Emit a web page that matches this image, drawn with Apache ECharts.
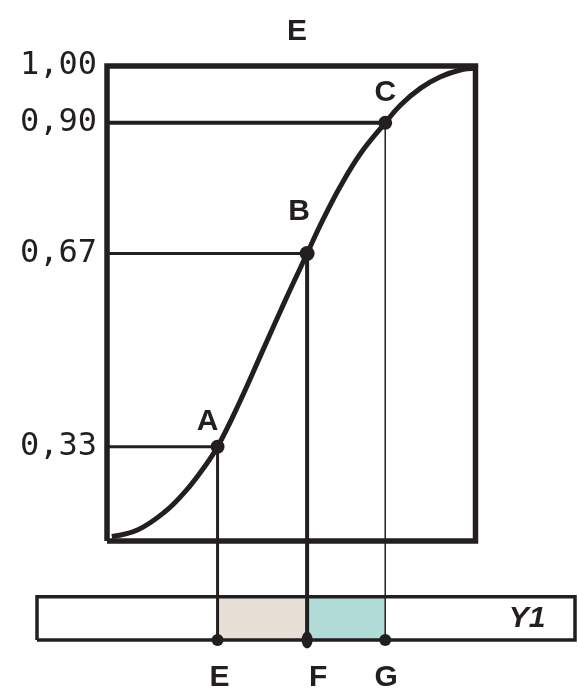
<!DOCTYPE html>
<html>
<head>
<meta charset="utf-8">
<script src="https://cdn.jsdelivr.net/npm/echarts@6/dist/echarts.min.js"></script>
<style>
  html, body { margin: 0; padding: 0; background: #fff; }
  #chart { width: 578px; height: 690px; }
</style>
</head>
<body>
<div id="chart"></div>
<script>
// axis ranges (box spans x 0..1, strip spans the whole width)
const xRange = [-0.19, 1.27]
const yRange = [-0.01, 1]
const yTicks = [0.33, 0.67, 0.90, 1.00]
const boxX = [0, 1]
const boxY = [0.164, 1]
const stripY = [-0.01, 0.066]

// the S-curve
const curveX = [0.013, 0.084, 0.158, 0.212, 0.258, 0.30, 0.361, 0.421, 0.484, 0.543, 0.584, 0.633, 0.688, 0.755, 0.796, 0.851, 0.905, 0.959, 1.0]
const curveY = [0.172, 0.184, 0.216, 0.251, 0.289, 0.33, 0.41, 0.497, 0.588, 0.67, 0.727, 0.788, 0.846, 0.90, 0.931, 0.961, 0.981, 0.993, 0.996]

// marked points and their feet on the strip
const pointNames = ['A', 'B', 'C']
const pointX = [0.30, 0.543, 0.755]
const pointY = [0.33, 0.67, 0.90]
const footNames = ['E', 'F', 'G']
const guideWidths = [3, 4, 1.5]
const hLineWidths = [3, 3, 4]
const bandColors = ['#e8e0d7', '#b0dbd6']

const ink = '#231f20'

const chart = echarts.init(document.getElementById('chart'))

const lineSeries = (data, width, extra) => Object.assign({
  type: 'line',
  data: data,
  symbol: 'none',
  clip: false,
  silent: true,
  lineStyle: { color: ink, width: width, join: 'miter', cap: 'butt' }
}, extra || {})

const series = []

// shaded bands on the strip: E..F and F..G
series.push({
  type: 'line',
  data: [],
  markArea: {
    silent: true,
    data: [
      [{ xAxis: pointX[0], yAxis: stripY[0], itemStyle: { color: bandColors[0] } }, { xAxis: pointX[1], yAxis: stripY[1] }],
      [{ xAxis: pointX[1], yAxis: stripY[0], itemStyle: { color: bandColors[1] } }, { xAxis: pointX[2], yAxis: stripY[1] }]
    ]
  }
})

// strip outline
series.push(lineSeries([
  [xRange[0], stripY[0]], [xRange[1], stripY[0]], [xRange[1], stripY[1]],
  [xRange[0], stripY[1]], [xRange[0], stripY[0]]
], 3.5))

// guide lines from each point
pointNames.forEach((name, i) => {
  series.push(lineSeries([[boxX[0], pointY[i]], [pointX[i], pointY[i]]], hLineWidths[i]))
  series.push(lineSeries([[pointX[i], pointY[i]], [pointX[i], stripY[0]]], guideWidths[i]))
})

// main box
series.push(lineSeries([
  [boxX[0], boxY[0]], [boxX[1], boxY[0]], [boxX[1], boxY[1]],
  [boxX[0], boxY[1]], [boxX[0], boxY[0]]
], 5.5))

// curve
series.push(lineSeries(curveX.map((x, i) => [x, curveY[i]]), 5, { smooth: 0.4 }))

const labelFont = { fontFamily: 'Liberation Sans, Arial, sans-serif', fontWeight: 'bold', fontSize: 30, color: ink }
const pointOffsets = [[-10, 2], [-8, -14], [0, -3]]
const footOffsets = [[2, 7], [11, 4], [1, 7]]

// points A, B, C
series.push({
  type: 'scatter',
  silent: true,
  clip: false,
  itemStyle: { color: ink, opacity: 1 },
  data: pointNames.map((n, i) => ({
    value: [pointX[i], pointY[i]],
    name: n,
    symbolSize: i === 1 ? 15 : 14,
    label: { offset: pointOffsets[i] }
  })),
  label: Object.assign({ show: true, position: 'top', formatter: '{b}' }, labelFont)
})

// feet E, F, G
series.push({
  type: 'scatter',
  silent: true,
  clip: false,
  itemStyle: { color: ink, opacity: 1 },
  data: footNames.map((n, i) => ({
    value: [pointX[i], stripY[0]],
    name: n,
    symbolSize: i === 1 ? [11, 17] : 12,
    label: { offset: footOffsets[i] }
  })),
  label: Object.assign({ show: true, position: 'bottom', distance: 10, formatter: '{b}' }, labelFont)
})

// strip name
series.push({
  type: 'scatter',
  silent: true,
  symbolSize: 0,
  itemStyle: { opacity: 1 },
  data: [{ value: [1.14, (stripY[0] + stripY[1]) / 2], name: 'Y1' }],
  label: Object.assign({ show: true, position: 'inside', formatter: '{b}', fontStyle: 'italic' }, labelFont)
})

const option = {
  backgroundColor: '#fff',
  animation: false,
  title: {
    text: 'E',
    left: 292,
    top: 12,
    textAlign: 'center',
    textStyle: labelFont
  },
  grid: { left: 37, right: 3, top: 66, bottom: 50, containLabel: false, outerBoundsMode: 'none' },
  xAxis: {
    type: 'value',
    min: xRange[0],
    max: xRange[1],
    axisLine: { show: false },
    axisTick: { show: false },
    axisLabel: { show: false },
    splitLine: { show: false }
  },
  yAxis: {
    type: 'value',
    min: yRange[0],
    max: yRange[1],
    offset: -70,
    axisLine: { show: false, onZero: false },
    axisTick: { show: false },
    splitLine: { show: false },
    axisLabel: {
      customValues: yTicks,
      margin: 10,
      fontFamily: 'DejaVu Sans Mono, monospace',
      fontSize: 32,
      color: ink,
      formatter: v => v.toFixed(2).replace('.', ',')
    }
  },
  series: series
}

chart.setOption(option)
</script>
</body>
</html>
